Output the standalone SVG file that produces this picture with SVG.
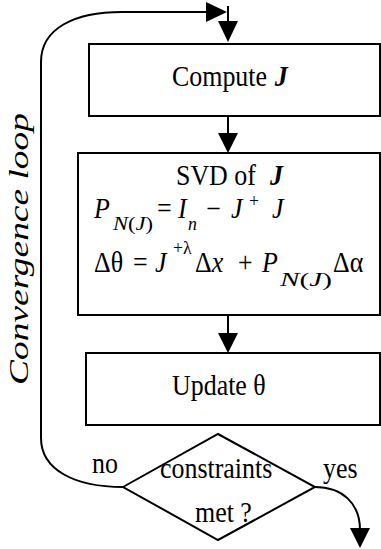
<svg xmlns="http://www.w3.org/2000/svg" width="381" height="549" viewBox="0 0 381 549">
  <style>
    .box { fill: #fff; stroke: #000; stroke-width: 2; }
    .wire { fill: none; stroke: #000; stroke-width: 2; }
    .head { fill: #000; stroke: none; }
    text { font-family: "Liberation Serif", "Times New Roman", serif; font-size: 28.5px; fill: #000; }
    .it { font-style: italic; }
    .bi { font-style: italic; font-weight: bold; }
    .sm { font-size: 19.5px; }
  </style>
  <rect width="381" height="549" fill="#fff"/>

  <!-- connectors -->
  <g id="connectors">
    <!-- loop back from the decision to the top -->
    <path class="wire" d="M123,487 C75,487 41,470 41,438 L41,62 C41,28 75,12 122,12 L207,12"/>
    <polygon class="head" points="206,2 227,12 206,22"/>
    <!-- entry -->
    <line class="wire" x1="228" y1="6" x2="228" y2="22"/>
    <polygon class="head" points="218,21 238,21 228,42"/>
    <!-- compute -> svd -->
    <line class="wire" x1="228" y1="116" x2="228" y2="134"/>
    <polygon class="head" points="218,133 238,133 228,153"/>
    <!-- svd -> update -->
    <line class="wire" x1="228" y1="315" x2="228" y2="334"/>
    <polygon class="head" points="218,333 238,333 228,353"/>
    <!-- yes exit -->
    <path class="wire" d="M315,487 C342,487 360,503 360,530"/>
    <polygon class="head" points="350,528 370,528 360,548"/>
    <!-- loop label -->
    <text class="it" style="font-size:27px" transform="translate(28,385) rotate(-90)" textLength="272" lengthAdjust="spacingAndGlyphs">Convergence loop</text>
    <g transform="scale(0.91,1)">
      <text x="101.1" y="473">no</text>
      <text x="354.9" y="478">yes</text>
    </g>
  </g>

  <g id="compute">
    <rect class="box" x="89" y="44" width="291" height="72"/>
    <g transform="scale(0.91,1)">
      <text x="189" y="86">Compute<tspan class="bi" x="302">J</tspan></text>
    </g>
  </g>

  <g id="svd">
    <rect class="box" x="78" y="153" width="302" height="162"/>
    <!-- text laid out in a 0.91 horizontally condensed frame -->
    <g transform="scale(0.91,1)">
      <text x="193.4" y="185">SVD of<tspan class="bi" x="296.7">J</tspan></text>
      <!-- P_N(J) = I_n - J^+ J -->
      <text class="it" x="103.3" y="218">P</text>
      <text class="sm" x="124.2" y="230" textLength="44" lengthAdjust="spacingAndGlyphs"><tspan class="it">N</tspan>(<tspan class="it">J</tspan>)</text>
      <text x="172.5" y="218">=</text>
      <text class="it" x="195.6" y="218">I</text>
      <text class="sm it" x="206.6" y="230">n</text>
      <text x="226.4" y="218">−</text>
      <text class="it" x="253.8" y="218">J</text>
      <text class="sm" x="273.6" y="207">+</text>
      <text class="it" x="298.9" y="218">J</text>
      <!-- delta theta = J^+lambda dx + P_N(J) d alpha -->
      <text x="103.3" y="272">Δθ</text>
      <text x="146.2" y="272">=</text>
      <text class="it" x="170.3" y="272">J</text>
      <text class="sm" x="190.1" y="254">+λ</text>
      <text x="214.3" y="272">Δ<tspan class="it">x</tspan></text>
      <text x="261.5" y="272">+</text>
      <text class="it" x="287.9" y="272">P</text>
      <text class="sm" x="307.7" y="286" textLength="57" lengthAdjust="spacingAndGlyphs"><tspan class="it">N</tspan>(<tspan class="it">J</tspan>)</text>
      <text x="365.9" y="272">Δα</text>
    </g>
  </g>

  <g id="update">
    <rect class="box" x="86" y="353" width="294" height="72"/>
    <g transform="scale(0.91,1)">
      <text x="189" y="395">Update θ</text>
    </g>
  </g>

  <g id="decision">
    <polygon class="box" points="123,487 218,434 315,487 218,540"/>
    <g transform="scale(0.91,1)">
      <text x="175.8" y="478">constraints</text>
      <text x="214.3" y="522">met ?</text>
    </g>
  </g>
</svg>
